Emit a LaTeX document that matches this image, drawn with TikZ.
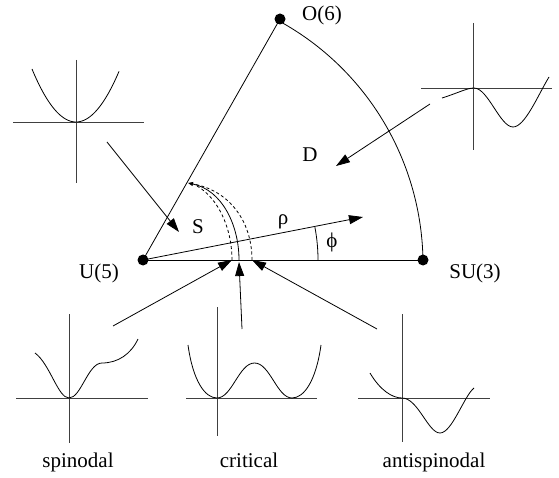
\documentclass[tikz,border=0pt]{standalone}
\usepackage{fontspec}
\setmainfont{Liberation Serif}
\usetikzlibrary{arrows.meta}
\begin{document}
\begin{tikzpicture}[x=1pt,y=-1pt,
  ln/.style={line width=0.8pt},
  axis/.style={line width=0.8pt,black!75},
  curve/.style={line width=0.8pt},
  bigarrow/.style={line width=0.8pt,-{Triangle[length=14pt,width=9pt]}},
  lbl/.style={inner sep=0pt,font=\fontsize{21}{25}\selectfont},
  dot/.style={circle,fill=black,inner sep=0pt,minimum size=11pt}]
\useasboundingbox (0,0) rectangle (559,478);
% vertices
\node[dot] (U) at (143,260) {};
\node[dot] (SU) at (423,260) {};
\node[dot] (O) at (280,19) {};
\node[lbl] (Ul) at (99,273) {U(5)};
\node[lbl] (SUl) at (475,273) {SU(3)};
\node[lbl] (Ol) at (322,15) {O(6)};
\node[lbl] (D) at (310,155) {D};
\node[lbl] (S) at (198,227) {S};
\node[lbl] (rho) at (283,222) {ρ};
\node[lbl] (phi) at (332,242) {ϕ};
% triangle sides
\draw[ln] (U.center) -- (SU.center);
\draw[ln] (U.center) -- (O.center);
\draw[ln] plot[domain=0:60.3,samples=80] ({143+(280-5*\x/60.3)*cos(\x)},{260-(280-5*\x/60.3)*sin(\x)});
% rho arrow and phi arc
\coordinate (rhoend) at (363,217);
\draw[bigarrow] (U.center) -- (rhoend);
\draw[ln] plot[domain=0:10.8,samples=30] ({143+175*cos(\x)},{260-175*sin(\x)});
% S curves
\coordinate (Sbot) at (239,260);
\coordinate (Stop) at (188,183);
\draw[ln,-{Triangle[length=5pt,width=4pt]}] (Sbot) .. controls (239,225) and (222,190) .. (Stop);
\draw[ln,dashed,dash pattern=on 3pt off 2.5pt] (232,260) .. controls (232,228) and (218,198) .. (197,186);
\draw[ln,dashed,dash pattern=on 3pt off 2.5pt] (252,260) .. controls (252,220) and (228,190) .. (193,184);
\coordinate (tipL) at (232,260);
\coordinate (tipM) at (239,262);
\coordinate (tipR) at (252,260);
% top-left plot
\draw[axis] (13,122) -- (144,122);
\draw[axis] (76,60) -- (76,183);
\draw[curve] plot[domain=-44:43,samples=60] ({76+\x},{122-53*(abs(\x)/44)^2});
\coordinate (tl) at (107,142);
\draw[bigarrow] (tl) -- (179,232);
% top-right plot
\draw[axis] (421,88) -- (552,88);
\draw[axis] (473,23) -- (473,150);
\draw[curve] (442,98) .. controls (458,93) and (467,88) .. (474,88)
  .. controls (488,88) and (500,127) .. (513,127)
  .. controls (525,127) and (538,95) .. (549,77);
\coordinate (tr) at (430,104);
\draw[bigarrow] (tr) -- (336,166);
% spinodal plot
\draw[axis] (16,398) -- (148,398);
\draw[axis] (69,314) -- (69,443);
\draw[curve] (35,353) .. controls (50,364) and (58,398) .. (69,398)
  .. controls (81,398) and (88,363) .. (102,363)
  .. controls (118,363) and (131,354) .. (138,339);
\coordinate (sp) at (113,326);
\draw[bigarrow] (sp) -- (tipL);
\node[lbl,anchor=base] (spl) at (78,467) {spinodal};
% critical plot
\draw[axis] (186,398) -- (317,398);
\draw[axis] (217,307) -- (217,436);
\draw[curve] (188,345) .. controls (193,381) and (205,398) .. (217,398)
  .. controls (232,398) and (239,363) .. (254.5,363)
  .. controls (270,363) and (277,398) .. (292,398)
  .. controls (304,398) and (316,381) .. (321,345);
\coordinate (cr) at (242,329);
\draw[bigarrow] (cr) -- (tipM);
\node[lbl,anchor=base] (crl) at (249,467) {critical};
% antispinodal plot
\draw[axis] (358,398) -- (490,398);
\draw[axis] (402,314) -- (402,442);
\draw[curve] (370,373) .. controls (380,390) and (392,398) .. (402,398)
  .. controls (418,398) and (428,433) .. (440,433)
  .. controls (452,433) and (464,396) .. (474,388);
\coordinate (an) at (377,329);
\draw[bigarrow] (an) -- (tipR);
\node[lbl,anchor=base] (anl) at (434,467) {antispinodal};
\end{tikzpicture}
\end{document}
